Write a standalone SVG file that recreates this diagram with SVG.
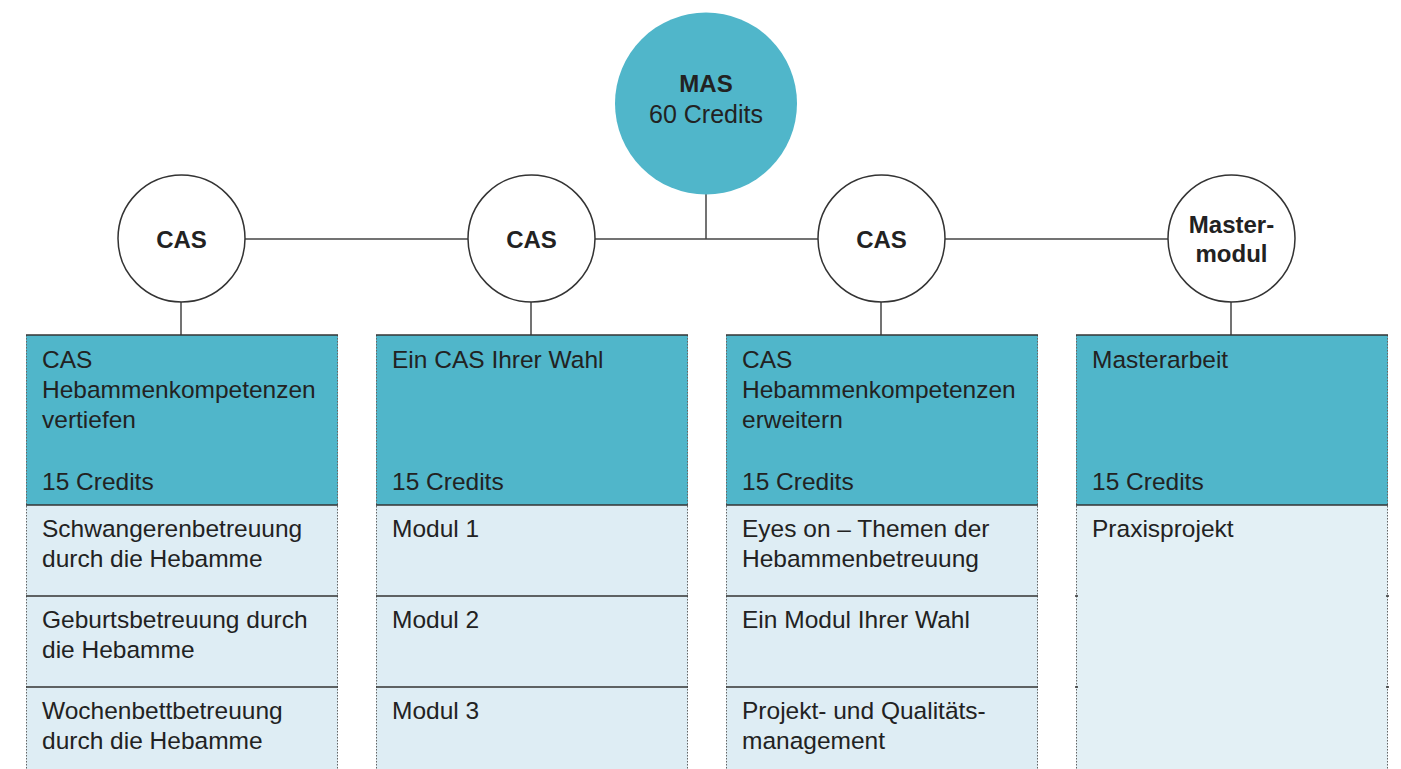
<svg xmlns="http://www.w3.org/2000/svg" width="1401" height="769" viewBox="0 0 1401 769">
<style>
text{font-family:"Liberation Sans",Arial,sans-serif;fill:#222}
.t{font-size:24.5px}
.b{font-size:24px;font-weight:bold;text-anchor:middle}
.c{font-size:25px;text-anchor:middle}
.conn{stroke:#444;stroke-width:1.5;fill:none}
.ring{fill:#fff;stroke:#333;stroke-width:1.5}
.head{fill:#50b6ca}
.body{fill:#deedf4}
.body4{fill:#e3f0f5}
.sep{stroke:#333;stroke-width:1.5}
.dot{stroke:#666;stroke-width:1;stroke-dasharray:1.5 1.5}
.tick{stroke:#333;stroke-width:1.5}
</style>
<rect width="1401" height="769" fill="#fff"/>
<g id="connectors">
<line class="conn" x1="181" y1="239" x2="1231" y2="239"/>
<line class="conn" x1="706" y1="190" x2="706" y2="239"/>
<line class="conn" x1="181" y1="300" x2="181" y2="335"/>
<line class="conn" x1="531" y1="300" x2="531" y2="335"/>
<line class="conn" x1="881" y1="300" x2="881" y2="335"/>
<line class="conn" x1="1231" y1="300" x2="1231" y2="335"/>
</g>
<g id="mas">
<circle cx="706" cy="103.5" r="91" fill="#50b6ca"/>
<text class="b" x="706" y="92">MAS</text>
<text class="c" x="706" y="123">60 Credits</text>
</g>
<g id="cas1">
<circle class="ring" cx="181.5" cy="238.5" r="63.5"/>
<text class="b" x="181.5" y="248">CAS</text>
</g>
<g id="cas2">
<circle class="ring" cx="531.5" cy="238.5" r="63.5"/>
<text class="b" x="531.5" y="248">CAS</text>
</g>
<g id="cas3">
<circle class="ring" cx="881.5" cy="238.5" r="63.5"/>
<text class="b" x="881.5" y="248">CAS</text>
</g>
<g id="mastermodul">
<circle class="ring" cx="1231.5" cy="238.5" r="63.5"/>
<text class="b" x="1231.5" y="233">Master-</text>
<text class="b" x="1231.5" y="262">modul</text>
</g>
<g id="col1">
<rect class="head" x="26" y="335" width="312" height="170"/>
<rect class="body" x="26" y="505" width="312" height="264"/>
<line class="dot" x1="26.5" y1="335" x2="26.5" y2="769"/>
<line class="dot" x1="337.5" y1="335" x2="337.5" y2="769"/>
<line class="sep" x1="26" y1="335" x2="338" y2="335"/>
<line class="sep" x1="26" y1="505" x2="338" y2="505"/>
<line class="sep" x1="26" y1="596" x2="338" y2="596"/>
<line class="sep" x1="26" y1="687" x2="338" y2="687"/>
<text class="t" x="42" y="368">CAS</text>
<text class="t" x="42" y="398">Hebammenkompetenzen</text>
<text class="t" x="42" y="428">vertiefen</text>
<text class="t" x="42" y="490">15 Credits</text>
<text class="t" x="42" y="537">Schwangerenbetreuung</text>
<text class="t" x="42" y="567">durch die Hebamme</text>
<text class="t" x="42" y="628">Geburtsbetreuung durch</text>
<text class="t" x="42" y="658">die Hebamme</text>
<text class="t" x="42" y="719">Wochenbettbetreuung</text>
<text class="t" x="42" y="749">durch die Hebamme</text>
</g>
<g id="col2">
<rect class="head" x="376" y="335" width="312" height="170"/>
<rect class="body" x="376" y="505" width="312" height="264"/>
<line class="dot" x1="376.5" y1="335" x2="376.5" y2="769"/>
<line class="dot" x1="687.5" y1="335" x2="687.5" y2="769"/>
<line class="sep" x1="376" y1="335" x2="688" y2="335"/>
<line class="sep" x1="376" y1="505" x2="688" y2="505"/>
<line class="sep" x1="376" y1="596" x2="688" y2="596"/>
<line class="sep" x1="376" y1="687" x2="688" y2="687"/>
<text class="t" x="392" y="368">Ein CAS Ihrer Wahl</text>
<text class="t" x="392" y="490">15 Credits</text>
<text class="t" x="392" y="537">Modul 1</text>
<text class="t" x="392" y="628">Modul 2</text>
<text class="t" x="392" y="719">Modul 3</text>
</g>
<g id="col3">
<rect class="head" x="726" y="335" width="312" height="170"/>
<rect class="body" x="726" y="505" width="312" height="264"/>
<line class="dot" x1="726.5" y1="335" x2="726.5" y2="769"/>
<line class="dot" x1="1037.5" y1="335" x2="1037.5" y2="769"/>
<line class="sep" x1="726" y1="335" x2="1038" y2="335"/>
<line class="sep" x1="726" y1="505" x2="1038" y2="505"/>
<line class="sep" x1="726" y1="596" x2="1038" y2="596"/>
<line class="sep" x1="726" y1="687" x2="1038" y2="687"/>
<text class="t" x="742" y="368">CAS</text>
<text class="t" x="742" y="398">Hebammenkompetenzen</text>
<text class="t" x="742" y="428">erweitern</text>
<text class="t" x="742" y="490">15 Credits</text>
<text class="t" x="742" y="537">Eyes on – Themen der</text>
<text class="t" x="742" y="567">Hebammenbetreuung</text>
<text class="t" x="742" y="628">Ein Modul Ihrer Wahl</text>
<text class="t" x="742" y="719">Projekt- und Qualitäts-</text>
<text class="t" x="742" y="749">management</text>
</g>
<g id="col4">
<rect class="head" x="1076" y="335" width="312" height="170"/>
<rect class="body4" x="1076" y="505" width="312" height="264"/>
<line class="dot" x1="1076.5" y1="335" x2="1076.5" y2="769"/>
<line class="dot" x1="1387.5" y1="335" x2="1387.5" y2="769"/>
<line class="sep" x1="1076" y1="335" x2="1388" y2="335"/>
<line class="sep" x1="1076" y1="505" x2="1388" y2="505"/>
<line class="tick" x1="1075" y1="596" x2="1078" y2="596"/>
<line class="tick" x1="1386" y1="596" x2="1389" y2="596"/>
<line class="tick" x1="1075" y1="687" x2="1078" y2="687"/>
<line class="tick" x1="1386" y1="687" x2="1389" y2="687"/>
<text class="t" x="1092" y="368">Masterarbeit</text>
<text class="t" x="1092" y="490">15 Credits</text>
<text class="t" x="1092" y="537">Praxisprojekt</text>
</g>
</svg>
